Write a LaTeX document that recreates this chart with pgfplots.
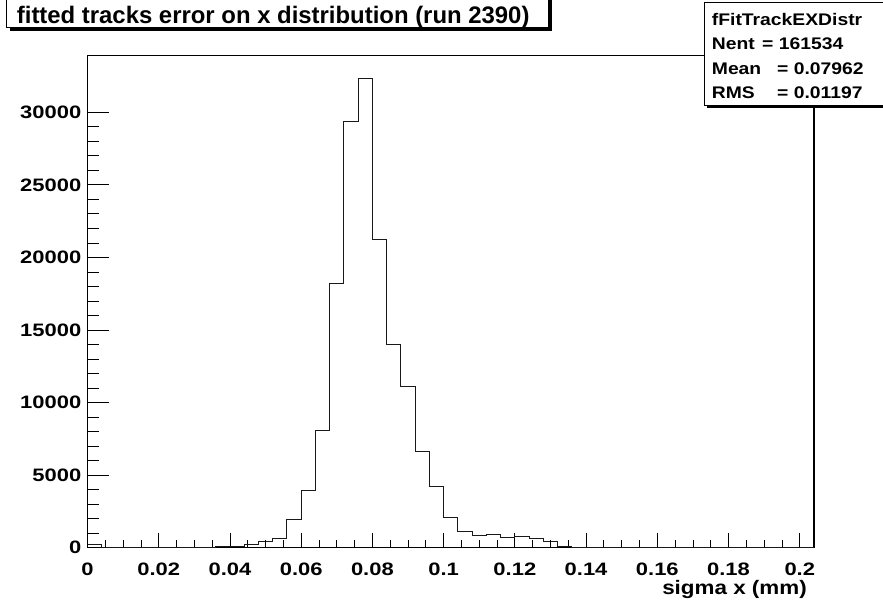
\documentclass[border=0pt]{standalone}
\usepackage{fontspec}
\setmainfont{Liberation Sans}
\newfontfamily\rootfont{Liberation Sans Bold}[FakeStretch=1.15]
\newfontfamily\tickfont{Liberation Sans Bold}[FakeStretch=1.22]
\newfontfamily\titlefont{Liberation Sans Bold}
\usepackage{pgfplots}
\pgfplotsset{compat=1.18}
\usepackage{pgfplotstable}
\pgfplotstableread{
x y
0.000 230
0.004 0
0.008 0
0.012 0
0.016 0
0.020 0
0.024 0
0.028 0
0.032 0
0.036 60
0.040 110
0.044 210
0.048 410
0.052 650
0.056 1940
0.060 3920
0.064 8050
0.068 18170
0.072 29400
0.076 32300
0.080 21220
0.084 14030
0.088 11100
0.092 6620
0.096 4210
0.100 2110
0.104 1150
0.108 830
0.112 890
0.116 670
0.120 740
0.124 600
0.128 440
0.132 90
0.136 30
0.140 0
0.144 0
0.148 0
0.152 0
0.156 0
0.160 0
0.164 0
0.168 0
0.172 0
0.176 0
0.180 0
0.184 0
0.188 0
0.192 0
0.196 0
0.200 0
0.204 0
}\histdata
\begin{document}
\begin{tikzpicture}
\useasboundingbox (0,0) rectangle (883bp,609bp);
\clip (0,0) rectangle (883bp,609bp);
\begin{axis}[
  at={(87.5bp,61.3bp)}, anchor=south west,
  scale only axis, width=726.5bp, height=492bp,
  xmin=0, xmax=0.204, ymin=0, ymax=33900,
  scaled ticks=false,
  axis line style={line width=1.2bp},
  xtick={0,0.02,0.04,0.06,0.08,0.1,0.12,0.14,0.16,0.18,0.2},
  xticklabels={0,0.02,0.04,0.06,0.08,0.1,0.12,0.14,0.16,0.18,0.2},
  ytick={0,5000,10000,15000,20000,25000,30000},
  yticklabels={0,5000,10000,15000,20000,25000,30000},
  minor x tick num=3, minor y tick num=4,
  xtick pos=left, ytick pos=left, tick align=inside,
  xtick style={line width=0.8bp, black, /pgfplots/major tick length=15bp, /pgfplots/minor tick length=7.5bp},
  ytick style={line width=0.8bp, black, /pgfplots/major tick length=21bp, /pgfplots/minor tick length=11bp},
  xticklabel style={font=\tickfont\fontsize{18bp}{18bp}\selectfont, anchor=north, inner sep=0pt, yshift=-15.5bp},
  yticklabel style={font=\tickfont\fontsize{18bp}{18bp}\selectfont, anchor=east, inner sep=0pt, xshift=-6bp},
  xlabel={sigma x (mm)},
  xlabel style={at={(rel axis cs:1,0)}, anchor=north east, inner sep=0pt, yshift=-32.5bp, xshift=-7bp, font=\rootfont\fontsize{19.5bp}{19.5bp}\selectfont},
]
\addplot[const plot mark left, black!90, line width=1bp] table[x=x,y=y] {\histdata};
\end{axis}
% title box with shadow
\fill[black] (10bp,609bp-31bp) rectangle (551.7bp,620bp);
\filldraw[fill=white, draw=black, line width=0.9bp] (6.7bp,609bp-27.7bp) rectangle (548.3bp,625bp);
\node[anchor=base west, inner sep=0pt, font=\titlefont\fontsize{23.9bp}{23.9bp}\selectfont] at (16.7bp,609bp-23.3bp) {fitted tracks error on x distribution (run 2390)};
% stats box with shadow
\fill[black] (707bp,609bp-108bp) rectangle (890bp,609bp-5bp);
\filldraw[fill=white, draw=black, line width=0.9bp] (704bp,609bp-105bp) rectangle (900bp,609bp-2.7bp);
\begin{scope}[every node/.style={anchor=base west, inner sep=0pt, font=\rootfont\fontsize{16.8bp}{16.8bp}\selectfont}]
\node at (711.7bp,609bp-26bp) {fFitTrackEXDistr};
\node at (711.7bp,609bp-50bp) {Nent};
\node at (762bp,609bp-50bp) {= 161534};
\node at (711.7bp,609bp-75bp) {Mean};
\node at (777bp,609bp-75bp) {= 0.07962};
\node at (711.7bp,609bp-99bp) {RMS};
\node at (777bp,609bp-99bp) {= 0.01197};
\end{scope}
\end{tikzpicture}
\end{document}
